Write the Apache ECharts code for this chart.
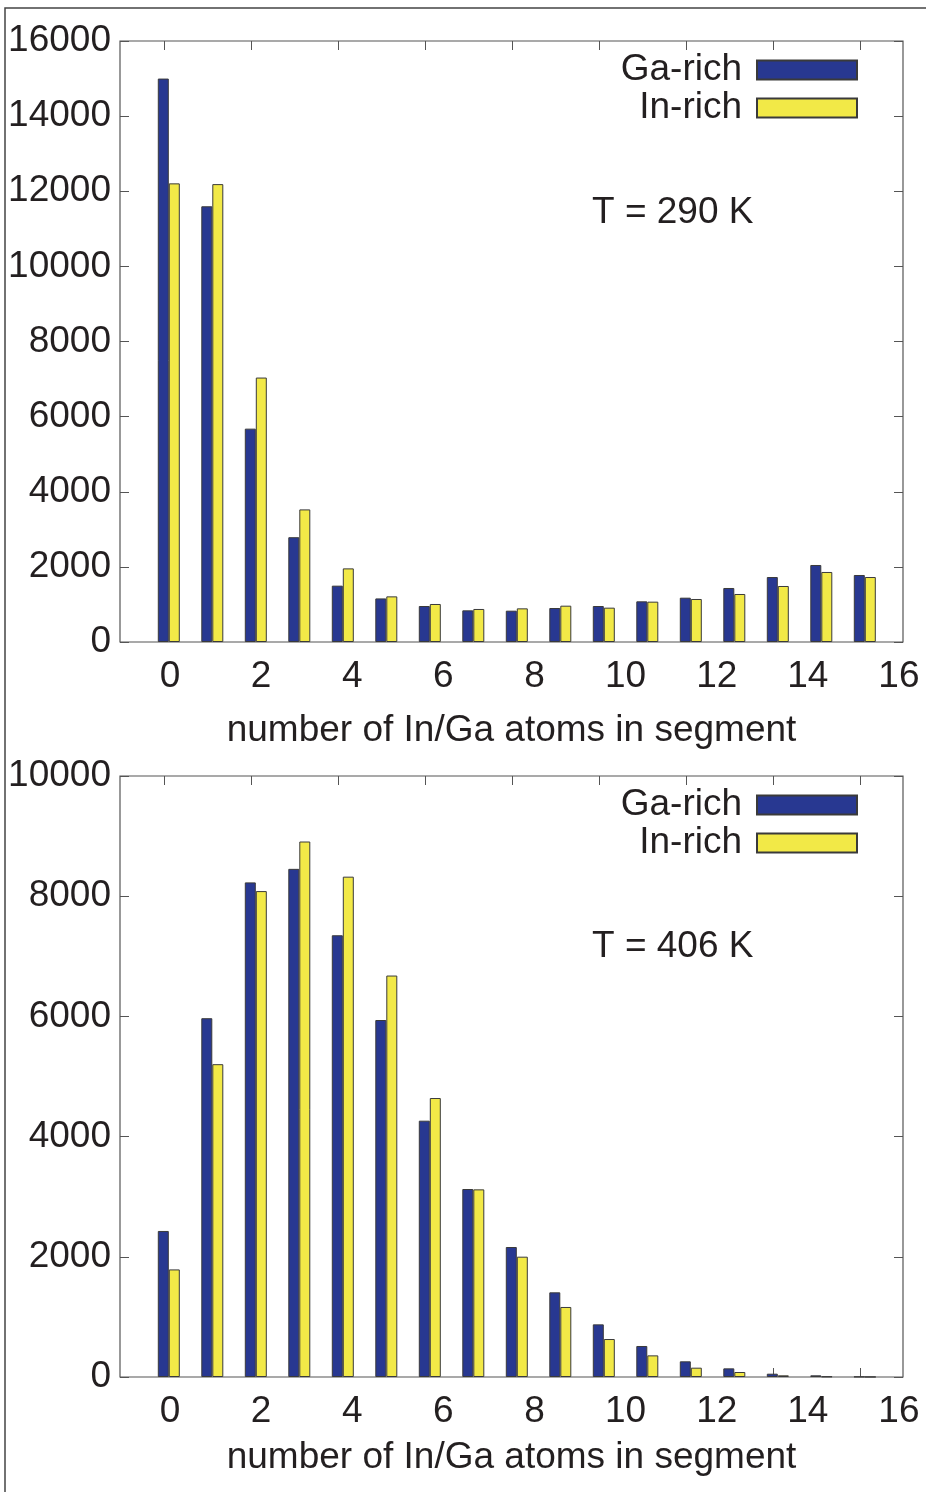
<!DOCTYPE html>
<html>
<head>
<meta charset="utf-8">
<script src="https://cdn.jsdelivr.net/npm/echarts@6/dist/echarts.min.js"></script>
<style>
html,body{margin:0;padding:0;background:#fff;}
#chart{width:926px;height:1492px;}
</style>
</head>
<body>
<div id="chart"></div>
<script>
// ---- data ----
const bins = [0,1,2,3,4,5,6,7,8,9,10,11,12,13,14,15,16];
const gaRich290 = [15000,11600,5680,2790,1500,1160,958,843,834,905,958,1083,1180,1438,1730,2050,1784];
const inRich290 = [12210,12190,7040,3530,1960,1215,1012,879,896,967,914,1074,1145,1278,1491,1864,1730];
const gaRich406 = [2430,5970,8230,8455,7350,5940,4265,3128,2163,1409,876,516,261,144,55,28,5];
const inRich406 = [1790,5205,8085,8910,8325,6680,4642,3122,2002,1165,632,360,155,83,28,8,2];
const xTickLabels = [0,2,4,6,8,10,12,14,16];
const xTickMarks = [0,2,4,6,8,10,12,14,16];
const yMax290 = 16000, yMax406 = 10000, yStep = 2000;
const seriesNames = ['Ga-rich','In-rich'];
const tempLabels = ['T = 290 K','T = 406 K'];
const xName = 'number of In/Ga atoms in segment';

// ---- style ----
const FONT = '"Liberation Sans", Arial, Helvetica, sans-serif';
const TXT = '#231f20';
const BLUE = '#283891';
const YELLOW = '#f2e947';
const EDGE = '#3a3a3a';
const FS = 37;

const grids = [
  {left:120, top:41, width:783, height:601},
  {left:120, top:776, width:783, height:601}
];

function xAxesFor(g, nameGap){
  const tickCommon = {
    type:'value', gridIndex:g, min:-1.0115, max:16.988,
    axisLine:{show:false, onZero:false},
    axisTick:{show:true, inside:true, length:9, customValues:xTickMarks, lineStyle:{color:'#555', width:1}},
    axisLabel:{show:false}, splitLine:{show:false}
  };
  return [
    {type:'value', gridIndex:g, min:-1.122, max:16.878, show:false,
     axisLine:{onZero:false}, splitLine:{show:false}},
    Object.assign({position:'bottom'}, tickCommon),
    Object.assign({position:'top'}, tickCommon),
    {type:'value', gridIndex:g, min:-1.097, max:16.089, position:'bottom',
     axisLine:{show:false, onZero:false}, axisTick:{show:false}, splitLine:{show:false},
     axisLabel:{show:true, customValues:xTickLabels, fontSize:FS, color:TXT, fontFamily:FONT, margin:16,
       formatter:(v)=>String(v)},
     name:xName, nameLocation:'middle', nameGap:nameGap,
     nameTextStyle:{fontSize:FS, color:TXT, fontFamily:FONT}}
  ];
}
function yAxesFor(g, max){
  const common = {type:'value', gridIndex:g, min:0, max:max, interval:yStep,
    axisLine:{show:false, onZero:false}, splitLine:{show:false},
    axisTick:{show:true, inside:true, length:9, lineStyle:{color:'#555', width:1}}};
  return [
    Object.assign({position:'left', axisLabel:{fontSize:FS, color:TXT, fontFamily:FONT, margin:9,
      formatter:(v)=>String(v)}}, common),
    Object.assign({position:'right', axisLabel:{show:false}}, common)
  ];
}
function barSeries(name, vals, color, xIdx, yIdx){
  return {
    type:'bar', name:name, xAxisIndex:xIdx, yAxisIndex:yIdx,
    data: bins.map((b,i)=>[b, vals[i]]),
    barWidth:11, barGap:'0%',
    itemStyle:{color:color, borderColor:EDGE, borderWidth:1},
    emphasis:{disabled:true}, z:3
  };
}
function legendFor(top){
  return {
    data:seriesNames, orient:'vertical', right:68, top:top, padding:0,
    align:'right', itemWidth:100, itemHeight:19, itemGap:0, icon:'rect',
    selectedMode:false,
    textStyle:{fontSize:FS, color:TXT, fontFamily:FONT, lineHeight:38, padding:[0,10,0,0]}
  };
}

const option = {
  animation:false,
  backgroundColor:'#fff',
  textStyle:{fontFamily:FONT},
  grid: grids.map(g=>Object.assign({show:true, borderColor:'#555', borderWidth:1.2,
    backgroundColor:'transparent', outerBoundsMode:'none', containLabel:false}, g)),
  xAxis: xAxesFor(0, 70).concat(xAxesFor(1, 62)),
  yAxis: yAxesFor(0, yMax290).concat(yAxesFor(1, yMax406)),
  legend: [legendFor(51), legendFor(786)],
  series: [
    barSeries(seriesNames[0], gaRich290, BLUE, 0, 0),
    barSeries(seriesNames[1], inRich290, YELLOW, 0, 0),
    barSeries(seriesNames[0], gaRich406, BLUE, 4, 2),
    barSeries(seriesNames[1], inRich406, YELLOW, 4, 2)
  ],
  graphic: [
    {type:'rect', shape:{x:5, y:8, width:1000, height:1600}, silent:true, z:-10,
     style:{fill:'none', stroke:'#444', lineWidth:1.5}},
    {type:'text', x:592, y:213, silent:true,
     style:{text:tempLabels[0], font:FS+'px '+FONT, fill:TXT, align:'left', verticalAlign:'middle'}},
    {type:'text', x:592, y:947, silent:true,
     style:{text:tempLabels[1], font:FS+'px '+FONT, fill:TXT, align:'left', verticalAlign:'middle'}}
  ]
};

const chart = echarts.init(document.getElementById('chart'), null, {renderer:'canvas'});
chart.setOption(option);
</script>
</body>
</html>
